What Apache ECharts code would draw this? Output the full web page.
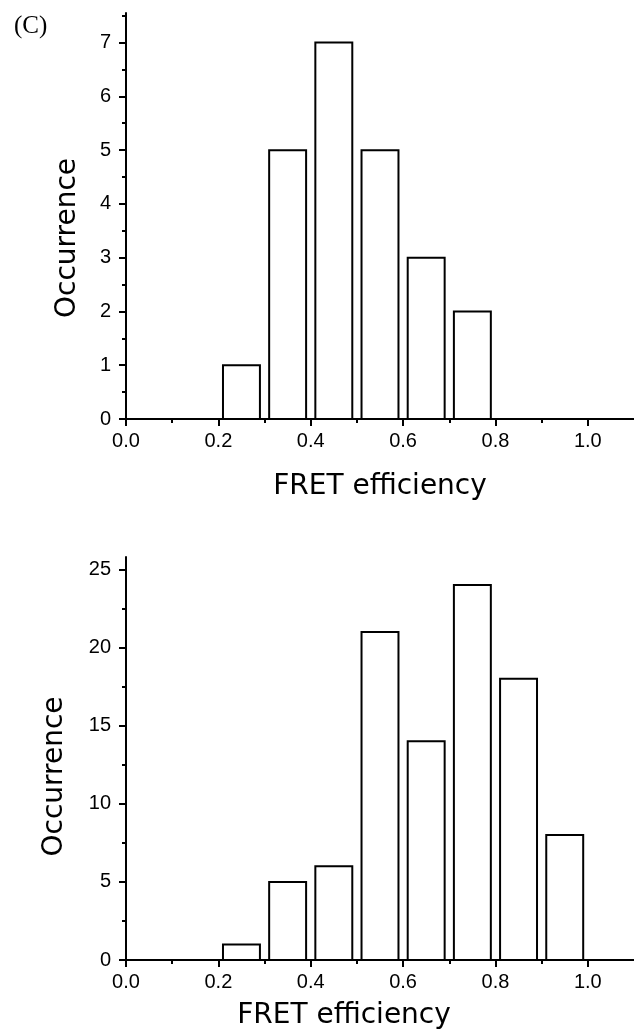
<!DOCTYPE html>
<html>
<head>
<meta charset="utf-8">
<script src="https://cdn.jsdelivr.net/npm/echarts@6/dist/echarts.min.js"></script>
<style>
html,body{margin:0;padding:0;background:#fff;}
#c{width:634px;height:1031px;}
</style>
</head>
<body>
<div id="c"></div>
<script>
// ---- data ----
const topBinCenters = [0.25, 0.35, 0.45, 0.55, 0.65, 0.75];
const topCounts     = [1, 5, 7, 5, 3, 2];
const botBinCenters = [0.25, 0.35, 0.45, 0.55, 0.65, 0.75, 0.85, 0.95];
const botCounts     = [1, 5, 6, 21, 14, 24, 18, 8];
const xTickValues   = [0.0, 0.2, 0.4, 0.6, 0.8, 1.0];
const xMinorValues  = [0.1, 0.3, 0.5, 0.7, 0.9];
const topYTicks     = [0, 1, 2, 3, 4, 5, 6, 7];
const topYMinor     = [0.5, 1.5, 2.5, 3.5, 4.5, 5.5, 6.5, 7.5];
const botYTicks     = [0, 5, 10, 15, 20, 25];
const botYMinor     = [2.5, 7.5, 12.5, 17.5, 22.5];
const panelLabel    = '(C)';
const xTitle        = 'FRET efficiency';
const yTitle        = 'Occurrence';

const BAR_HALF = 0.04;
const LABEL_FONT = 'Liberation Sans, Arial, sans-serif';
const TITLE_FONT = 'DejaVu Sans, sans-serif';

const chart = echarts.init(document.getElementById('c'), null, {renderer: 'canvas'});

function majorX(gridIndex, nameGap, namePad) {
  return {
    type: 'value', gridIndex, min: 0, max: 1.1,
    axisLine: {show: true, onZero: false, lineStyle: {color: '#000', width: 2}},
    axisTick: {show: true, customValues: xTickValues, length: 7, lineStyle: {color: '#000', width: 2}},
    axisLabel: {show: true, customValues: xTickValues, margin: 12, color: '#000',
      fontFamily: LABEL_FONT, fontSize: 20, formatter: v => v.toFixed(1)},
    splitLine: {show: false},
    name: xTitle, nameLocation: 'middle', nameGap: nameGap,
    nameTextStyle: {color: '#000', fontFamily: TITLE_FONT, fontSize: 28, padding: namePad}
  };
}
function minorX(gridIndex) {
  return {
    type: 'value', gridIndex, min: 0, max: 1.1, position: 'bottom',
    axisLine: {show: false},
    axisTick: {show: true, customValues: xMinorValues, length: 4, lineStyle: {color: '#000', width: 2}},
    axisLabel: {show: false}, splitLine: {show: false}
  };
}
function majorY(gridIndex, max, ticks, nameGap, namePad) {
  return {
    type: 'value', gridIndex, min: 0, max: max, position: 'left',
    axisLine: {show: true, onZero: false, lineStyle: {color: '#000', width: 2}},
    axisTick: {show: true, customValues: ticks, length: 7, lineStyle: {color: '#000', width: 2}},
    axisLabel: {show: true, customValues: ticks, margin: 15, color: '#000',
      fontFamily: LABEL_FONT, fontSize: 20},
    splitLine: {show: false},
    name: yTitle, nameLocation: 'middle', nameGap: nameGap, nameRotate: 90,
    nameTextStyle: {color: '#000', fontFamily: TITLE_FONT, fontSize: 28, padding: namePad}
  };
}
function minorY(gridIndex, max, ticks) {
  return {
    type: 'value', gridIndex, min: 0, max: max, position: 'left',
    axisLine: {show: false},
    axisTick: {show: true, customValues: ticks, length: 4, lineStyle: {color: '#000', width: 2}},
    axisLabel: {show: false}, splitLine: {show: false}
  };
}
function histSeries(xi, yi, centers, counts) {
  return {
    type: 'custom', xAxisIndex: xi, yAxisIndex: yi,
    data: centers.map((c, i) => [c, counts[i]]),
    encode: {x: 0, y: 1},
    renderItem: function (params, api) {
      const x = api.value(0), y = api.value(1);
      const p0 = api.coord([x - BAR_HALF, y]);
      const p1 = api.coord([x + BAR_HALF, 0]);
      return {
        type: 'rect',
        shape: {x: p0[0], y: p0[1], width: p1[0] - p0[0], height: p1[1] - p0[1]},
        style: {fill: '#fff', stroke: '#000', lineWidth: 2}
      };
    },
    z: 1
  };
}

chart.setOption({
  animation: false,
  backgroundColor: '#fff',
  title: {text: panelLabel, left: 9, top: 9,
    textStyle: {fontFamily: 'Liberation Serif, Times New Roman, serif', fontWeight: 'normal', fontSize: 25, color: '#000'}},
  grid: [
    {left: 126, top: 13, width: 509, height: 406},
    {left: 126, top: 557, width: 509, height: 406}
  ],
  xAxis: [majorX(0, 54, [0, 0, 0, 0]), minorX(0), majorX(1, 42, [0, 72, 0, 0]), minorX(1)],
  yAxis: [
    majorY(0, 7.55, topYTicks, 44, [0, 44, 0, 0]), minorY(0, 7.55, topYMinor),
    majorY(1, 25.8, botYTicks, 57, [0, 36, 0, 0]), minorY(1, 25.8, botYMinor)
  ],
  series: [
    histSeries(0, 0, topBinCenters, topCounts),
    histSeries(2, 2, botBinCenters, botCounts)
  ]
});
</script>
</body>
</html>
